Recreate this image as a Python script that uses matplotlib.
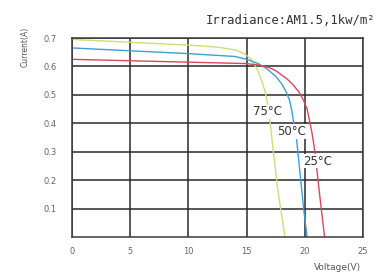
import matplotlib
matplotlib.use("Agg")
import matplotlib.pyplot as plt

# I-V curves (voltage in V, current in A)
v_25 = [0, 5, 10, 15, 16, 17, 17.5, 18, 18.5, 19, 19.5, 19.9, 20.2, 20.4, 20.6, 20.8, 21.0, 21.3, 21.7]
i_25 = [0.625, 0.62, 0.615, 0.61, 0.605, 0.595, 0.585, 0.57, 0.555, 0.535, 0.51, 0.48, 0.45,
        0.41, 0.37, 0.32, 0.25, 0.14, 0.0]

v_50 = [0, 5, 10, 14, 15, 16, 16.8, 17.5, 18.0, 18.4, 18.7, 18.9, 19.05, 19.3, 19.6, 19.9, 20.2]
i_50 = [0.665, 0.655, 0.645, 0.635, 0.625, 0.61, 0.59, 0.565, 0.54, 0.51, 0.48, 0.44, 0.40,
        0.34, 0.22, 0.10, 0.0]

v_75 = [0, 5, 10, 12.5, 14, 14.8, 15.4, 15.9, 16.3, 16.6, 16.8, 17.0, 17.3, 17.7, 18.3]
i_75 = [0.695, 0.685, 0.675, 0.668, 0.658, 0.645, 0.625, 0.59, 0.55, 0.51, 0.47, 0.41, 0.30,
        0.16, 0.0]

xticks = [0, 5, 10, 15, 20, 25]
yticks = [0.1, 0.2, 0.3, 0.4, 0.5, 0.6, 0.7]

W, H = 383, 275
fig = plt.figure(figsize=(W / 100, H / 100), dpi=100)
ax = fig.add_axes([72 / W, 1 - 237 / H, 291 / W, 199 / H])

ax.plot(v_75, i_75, color='#c8e07a', lw=1.0)
ax.plot(v_50, i_50, color='#3f9fd6', lw=1.0)
ax.plot(v_25, i_25, color='#d9485e', lw=1.0)

ax.set_xlim(0, 25)
ax.set_ylim(0, 0.7)
ax.set_xticks(xticks)
ax.set_yticks(yticks)
ax.set_xticklabels([str(t) for t in xticks])
ax.set_yticklabels([f"{t:.1f}" for t in yticks])
ax.grid(True, color='#2a2a2a', lw=1.1)
ax.set_axisbelow(True)
for s in ax.spines.values():
    s.set_color('#3a3a3a')
    s.set_linewidth(1.1)
ax.tick_params(length=0, labelsize=6, labelcolor='#666666')
ax.tick_params(axis='x', pad=7)
ax.tick_params(axis='y', pad=11)

# temperature labels (white box cuts the curves like the original)
lab = dict(fontsize=8.5, color='#333333', ha='center', va='center',
           bbox=dict(facecolor='white', edgecolor='none', pad=0.6))
ax.text(16.8, 0.44, "75°C", **lab)
ax.text(18.9, 0.37, "50°C", **lab)
ax.text(21.1, 0.267, "25°C", **lab)

fig.text(25 / W, 1 - 47 / H, "Current(A)", rotation=90, fontsize=5.5,
         color='#555555', ha='center', va='center')
fig.text(337 / W, 1 - 268 / H, "Voltage(V)", fontsize=6.5,
         color='#555555', ha='center', va='center')
fig.text(375 / W, 1 - 20 / H, "Irradiance:AM1.5,1kw/m²", fontsize=8.8,
         family='DejaVu Sans Mono', color='#333333', ha='right', va='center')

fig.savefig("out.png", dpi=100)
